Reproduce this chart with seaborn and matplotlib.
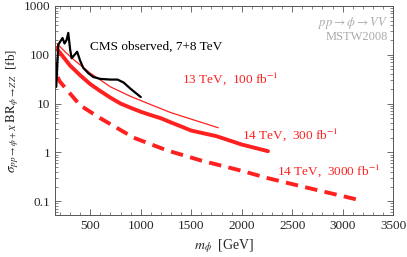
import seaborn as sns
import matplotlib.pyplot as plt
import matplotlib.ticker as mticker
import pandas as pd

# CMS observed limit, 7+8 TeV
cms_m = [145, 163, 183, 205, 225, 245, 265, 282, 300, 315, 345, 370, 400, 430, 480, 530, 600, 700, 770, 830, 900, 1000]
cms_v = [140, 22, 160, 190, 220, 170, 200, 280, 130, 85, 100, 115, 75, 54, 42, 35, 32, 31, 31, 27, 20, 13.6]

# 13 TeV, 100 fb-1
m13 = [170, 250, 350, 500, 700, 900, 1100, 1300, 1500, 1767]
v13 = [170, 115, 75, 42, 22, 14, 9.5, 6.5, 4.8, 3.2]

# 14 TeV, 300 fb-1
m300 = [160, 200, 300, 400, 500, 600, 700, 800, 900, 1000, 1100, 1200, 1300, 1400, 1500, 1750, 2000, 2260]
v300 = [140, 110, 60, 38, 25, 18, 13.2, 10, 8.2, 6.8, 5.8, 5.0, 4.1, 3.4, 2.8, 2.15, 1.45, 1.06]

# 14 TeV, 3000 fb-1
m3000 = [175, 200, 300, 400, 600, 930, 1260, 1600, 2000, 2250, 2600, 3130]
v3000 = [35, 28, 16, 9.2, 5.0, 2.0, 1.1, 0.68, 0.42, 0.30, 0.2, 0.11]

RED = '#ff2020'

sns.set_style("ticks")
plt.rcParams['font.family'] = ['Liberation Serif', 'DejaVu Serif']
plt.rcParams['mathtext.fontset'] = 'stix'

fig = plt.figure(figsize=(4.07, 2.57), dpi=100)
ax = fig.add_axes([0.135, 0.163, 0.831, 0.814])

df_cms = pd.DataFrame({'m': cms_m, 'v': cms_v})
df13 = pd.DataFrame({'m': m13, 'v': v13})
df300 = pd.DataFrame({'m': m300, 'v': v300})
df3000 = pd.DataFrame({'m': m3000, 'v': v3000})

sns.lineplot(data=df13, x='m', y='v', ax=ax, color=RED, lw=0.9, sort=False)
sns.lineplot(data=df300, x='m', y='v', ax=ax, color=RED, lw=2.8, sort=False)
sns.lineplot(data=df3000, x='m', y='v', ax=ax, color=RED, lw=2.8, sort=False)
ax.lines[-1].set_dashes([3.2, 1.9])
sns.lineplot(data=df_cms, x='m', y='v', ax=ax, color='black', lw=1.6, sort=False)

ax.set_yscale('log')
ax.set_xlim(150, 3500)
ax.set_ylim(0.052, 1000)

ax.xaxis.set_major_locator(mticker.MultipleLocator(500))
ax.xaxis.set_minor_locator(mticker.MultipleLocator(100))
ax.yaxis.set_major_locator(mticker.LogLocator(base=10, numticks=10))
ax.yaxis.set_minor_locator(mticker.LogLocator(base=10, subs=range(2, 10), numticks=20))
ax.yaxis.set_major_formatter(mticker.FuncFormatter(lambda v, p: '%g' % v))
ax.yaxis.set_minor_formatter(mticker.NullFormatter())

ax.tick_params(which='both', direction='in', top=True, right=True, color='#555555', labelsize=9.5)
ax.tick_params(which='major', length=4, width=0.6)
ax.tick_params(which='minor', length=2, width=0.5)
for s in ax.spines.values():
    s.set_linewidth(0.7)
    s.set_color('#555555')

ax.set_xlabel(r'$m_\phi$  [GeV]', fontsize=10)
ax.set_ylabel(r'$\sigma_{pp\to\phi+X}\;\mathrm{BR}_{\phi\to ZZ}$  [fb]', fontsize=9.5, labelpad=2)

ax.text(500, 144, 'CMS observed, 7+8 TeV', fontsize=9.5, color='black', va='center')
ax.text(1410, 33, r'13 TeV,  100 fb$^{-1}$', fontsize=9.5, color=RED, va='center')
ax.text(2005, 2.26, r'14 TeV,  300 fb$^{-1}$', fontsize=9.5, color=RED, va='center')
ax.text(2350, 0.43, r'14 TeV,  3000 fb$^{-1}$', fontsize=9.5, color=RED, va='center')

ax.text(0.985, 0.92, r'$pp\to\phi\to VV$', transform=ax.transAxes, ha='right', va='center',
        fontsize=9, color='#aaaaaa')
ax.text(0.985, 0.85, 'MSTW2008', transform=ax.transAxes, ha='right', va='center',
        fontsize=9, color='#aaaaaa')

fig.savefig('out.png', dpi=100)
